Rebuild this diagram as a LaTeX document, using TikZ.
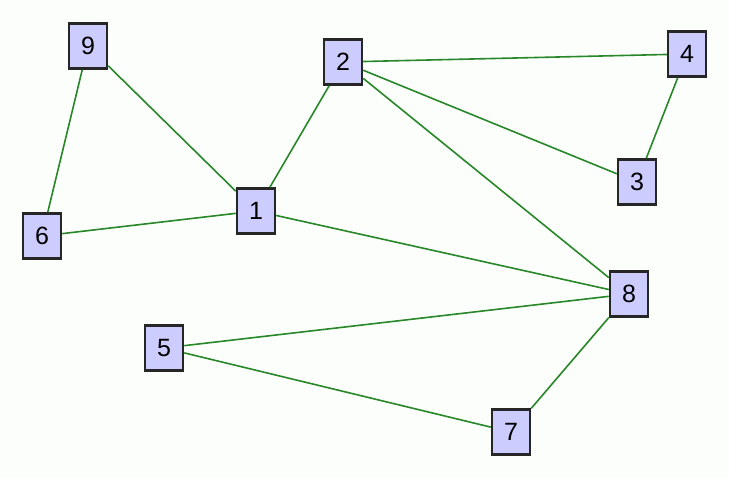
\documentclass[tikz,border=0pt]{standalone}
\usepackage{fontspec}
\setmainfont{Liberation Sans}
\definecolor{edgegreen}{RGB}{40,135,40}
\definecolor{boxfill}{RGB}{204,204,255}
\definecolor{bgcol}{RGB}{252,254,252}
\begin{document}
\begin{tikzpicture}[x=1pt,y=-1pt,
  vbox/.style={draw=black!85, fill=boxfill, line width=2.5pt, minimum width=38pt, minimum height=45pt, inner sep=0pt, font=\fontsize{25}{27}\selectfont},
  link/.style={draw=edgegreen, line width=1.6pt}]
\fill[bgcol] (0,0) rectangle (729,478);
\useasboundingbox (0,0) rectangle (729,478);
\node[vbox] (n9) at (88,46) {9};
\node[vbox] (n2) at (343,62) {2};
\node[vbox] (n4) at (687,54) {4};
\node[vbox] (n3) at (637,182) {3};
\node[vbox] (n1) at (256,211) {1};
\node[vbox] (n6) at (42,236) {6};
\node[vbox] (n8) at (629,294) {8};
\node[vbox] (n5) at (164,348) {5};
\node[vbox] (n7) at (511,432) {7};
\draw[link] (n9) -- (n6);
\draw[link] (n9) -- (n1);
\draw[link] (n6) -- (n1);
\draw[link] (n1) -- (n2);
\draw[link] (n1) -- (n8);
\draw[link] (n2) -- (n4);
\draw[link] (n2) -- (n3);
\draw[link] (n2) -- (n8);
\draw[link] (n4) -- (n3);
\draw[link] (n8) -- (n5);
\draw[link] (n8) -- (n7);
\draw[link] (n5) -- (n7);
\end{tikzpicture}
\end{document}
